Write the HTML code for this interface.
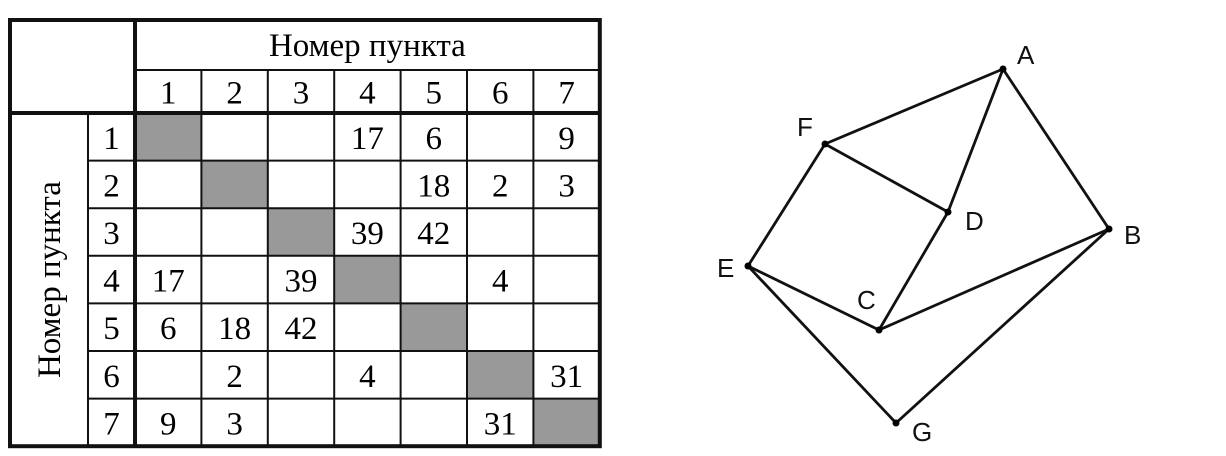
<!DOCTYPE html>
<html><head><meta charset="utf-8"><style>
html,body{margin:0;padding:0;background:#fff;width:1226px;height:456px;overflow:hidden}
svg{display:block}
.t{font-family:"Liberation Serif","DejaVu Serif",serif;font-size:33px;fill:#000;text-anchor:middle}
.g{font-family:"Liberation Sans","DejaVu Sans",sans-serif;font-size:26px;fill:#111}
</style></head><body>
<svg id="s" width="1226" height="456" viewBox="0 0 1226 456">
<g id="tbl"></g>
<g id="gr"></g>
</svg>
<script>
const headers = ["1","2","3","4","5","6","7"];
const weights = [
 [null,null,null,17,6,null,9],
 [null,null,null,null,18,2,3],
 [null,null,null,39,42,null,null],
 [17,null,39,null,null,4,null],
 [6,18,42,null,null,null,null],
 [null,2,null,4,null,null,31],
 [9,3,null,null,null,31,null]
];
const nodeNames = ["A","B","C","D","E","F","G"];
const nodeX = [1003,1109,879,948,748,825,896];
const nodeY = [69,229,330,212,266,144,423];
const edges = [["F","A"],["A","D"],["A","B"],["F","D"],["F","E"],["D","C"],["C","B"],["E","C"],["E","G"],["G","B"]];
const labelDX = [14,15,-22,17,-31,-28,16];
const labelDY = [-5,15,-21,18,11,-8,18];

const NS="http://www.w3.org/2000/svg";
function mk(tag,attrs,parent){const e=document.createElementNS(NS,tag);for(const k in attrs)e.setAttribute(k,attrs[k]);parent.appendChild(e);return e;}
const T=document.getElementById('tbl');
const x0=135,cw=66.4,y0=113,rh=47.6,topY=20,hdr1=70;
const colX=i=>x0+i*cw, rowY=i=>y0+i*rh;
const nCols=headers.length, rightX=colX(nCols), bottomY=rowY(nCols);
for(let r=0;r<nCols;r++){for(let c=0;c<nCols;c++){
 if(r===c){const g=mk('rect',{x:colX(c),y:rowY(r),width:cw,height:rh,fill:'#999'},T);
  
  }
 else if(weights[r][c]!==null){const t=mk('text',{x:colX(c)+cw/2,y:rowY(r)+rh/2+12,class:'t'},T);t.textContent=weights[r][c];
  
  }
}}
for(let i=1;i<nCols;i++){
 mk('line',{x1:colX(i),y1:hdr1,x2:colX(i),y2:bottomY,stroke:'#111','stroke-width':2},T);
 mk('line',{x1:88,y1:rowY(i),x2:rightX,y2:rowY(i),stroke:'#111','stroke-width':2},T);
}
mk('line',{x1:88,y1:y0,x2:88,y2:bottomY,stroke:'#111','stroke-width':2},T);
mk('line',{x1:x0,y1:hdr1,x2:rightX,y2:hdr1,stroke:'#111','stroke-width':2},T);
mk('line',{x1:x0,y1:topY,x2:x0,y2:bottomY,stroke:'#111','stroke-width':4},T);
mk('line',{x1:10,y1:y0,x2:rightX,y2:y0,stroke:'#111','stroke-width':4},T);
mk('rect',{x:10,y:topY,width:rightX-10,height:bottomY-topY,fill:'none',stroke:'#111','stroke-width':4},T);
for(let i=0;i<nCols;i++){
 const h=mk('text',{x:colX(i)+cw/2,y:(hdr1+y0)/2+12,class:'t'},T);h.textContent=headers[i];
 
 
 const rl=mk('text',{x:(88+x0)/2,y:rowY(i)+rh/2+12,class:'t'},T);rl.textContent=headers[i];
 
 
}
const ht=mk('text',{x:(x0+rightX)/2,y:topY+36,class:'t','font-size':'31'},T);ht.textContent='Номер пункта';


const vt=mk('text',{x:0,y:0,class:'t','font-size':'31',transform:`translate(60,${(y0+bottomY)/2}) rotate(-90)`},T);vt.textContent='Номер пункта';



const GR=document.getElementById('gr');
const idx=nm=>nodeNames.indexOf(nm);
edges.forEach(e=>{const a=idx(e[0]),b=idx(e[1]);
 const l=mk('line',{x1:nodeX[a],y1:nodeY[a],x2:nodeX[b],y2:nodeY[b],stroke:'#111','stroke-width':2.8},GR);
 
 
});
nodeNames.forEach((nm,i)=>{
 const c=mk('circle',{cx:nodeX[i],cy:nodeY[i],r:3.5,fill:'#000'},GR);
 
 
 const t=mk('text',{x:nodeX[i]+labelDX[i],y:nodeY[i]+labelDY[i],class:'g'},GR);t.textContent=nm;
 
 
});
</script>
</body></html>
